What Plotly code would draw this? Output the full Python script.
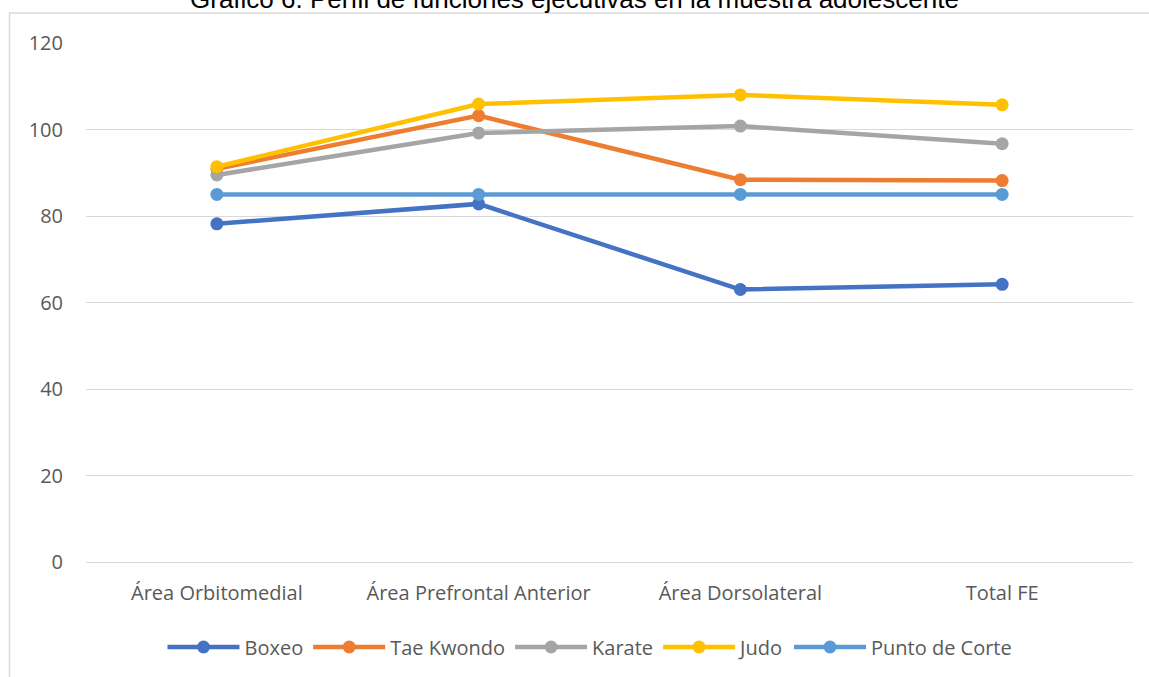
import plotly.graph_objects as go

categories = ["Área Orbitomedial", "Área Prefrontal Anterior", "Área Dorsolateral", "Total FE"]
boxeo = [78.2, 82.8, 63.0, 64.2]
tae_kwondo = [90.9, 103.2, 88.4, 88.2]
karate = [89.5, 99.2, 100.8, 96.7]
judo = [91.4, 105.9, 108.0, 105.7]
punto_corte = [85, 85, 85, 85]
title_text = "Gráfico 6. Perfil de funciones ejecutivas en la muestra adolescente"

series = [
    ("Boxeo", boxeo, "#4472C4"),
    ("Tae Kwondo", tae_kwondo, "#ED7D31"),
    ("Karate", karate, "#A5A5A5"),
    ("Judo", judo, "#FFC000"),
    ("Punto de Corte", punto_corte, "#5B9BD5"),
]

fig = go.Figure()
for name, vals, color in series:
    fig.add_trace(go.Scatter(
        x=categories, y=vals, name=name, mode="lines+markers",
        line=dict(color=color, width=4.5),
        marker=dict(color=color, size=13),
    ))

W, H = 1149, 677
ml, mr, mt, mb = 86, 16, 43, 114
pw, ph = W - ml - mr, H - mt - mb

def px_x(x):
    return (x - ml) / pw

def px_y(y):
    return (H - mb - y) / ph

fig.update_layout(
    width=W, height=H,
    margin=dict(l=ml, r=mr, t=mt, b=mb),
    paper_bgcolor="white", plot_bgcolor="white",
    font=dict(family="Open Sans", size=20, color="#595959"),
    xaxis=dict(showgrid=False, showline=False, ticks="", zeroline=False,
               range=[-0.5, 3.5], ticklabelstandoff=17,
               tickfont=dict(size=20, color="#595959")),
    yaxis=dict(range=[0, 120], dtick=20, showgrid=True, gridcolor="#D9D9D9",
               gridwidth=1, zeroline=True, zerolinecolor="#D9D9D9", zerolinewidth=1,
               showline=False, ticks="", ticklabelstandoff=22,
               tickfont=dict(size=20, color="#595959")),
    legend=dict(orientation="h", x=px_x(590), xanchor="center", y=px_y(647), yanchor="middle",
                font=dict(size=20, color="#595959"), itemwidth=72, traceorder="normal"),
    showlegend=True,
    annotations=[dict(text=title_text, xref="paper", yref="paper",
                      x=px_x(574), y=px_y(16), xanchor="center", yanchor="bottom",
                      showarrow=False,
                      font=dict(family="Liberation Sans, Arial", size=26, color="#000000"))],
    shapes=[dict(type="rect", xref="paper", yref="paper",
                 x0=px_x(9.5), x1=px_x(1160), y0=px_y(690), y1=px_y(13),
                 line=dict(color="#D9D9D9", width=1.5), fillcolor="rgba(0,0,0,0)",
                 layer="below")],
)

fig.write_html("out.html", config={"displayModeBar": False},
               post_script="document.body.style.margin='0px';")
